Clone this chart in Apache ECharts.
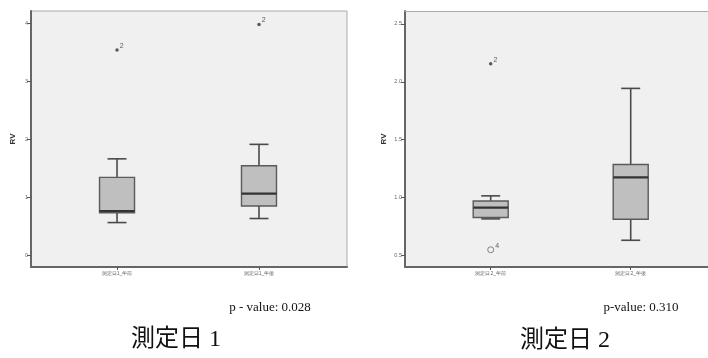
<!DOCTYPE html>
<html>
<head>
<meta charset="utf-8">
<script src="https://cdn.jsdelivr.net/npm/echarts@6/dist/echarts.min.js"></script>
<style>
  html, body { margin: 0; padding: 0; background: #fff; }
  #chart { width: 708px; height: 358px; }
</style>
</head>
<body>
<div id="chart"></div>
<script>
// 测定日1 / 测定日2 的箱线图数据
const day1Categories = ['測定日1_午前', '測定日1_午後'];
const day2Categories = ['測定日2_午前', '測定日2_午後'];
// [x, min, Q1, median, Q3, max]
const day1Boxes = [
    [1, 0.56, 0.73, 0.76, 1.34, 1.66],
    [2, 0.63, 0.845, 1.06, 1.54, 1.91]
];
const day2Boxes = [
    [1, 0.815, 0.827, 0.913, 0.97, 1.014],
    [2, 0.63, 0.812, 1.173, 1.285, 1.943]
];
// 极端值(*) [x, value, 编号]
const day1Extremes = [[1, 3.54, '2'], [2, 3.98, '2']];
const day2Extremes = [[1, 2.156, '2']];
// 离群值(o)
const day2Outliers = [[1, 0.548, '4']];
const day1Ticks = [0, 1, 2, 3, 4];
const day2Ticks = [0.5, 1.0, 1.5, 2.0, 2.5];
const pValues = ['p - value: 0.028', 'p-value: 0.310'];
const dayTitles = ['測定日 1', '測定日 2'];

const BOX_W = 35, CAP_W = 19;

function renderBox(params, api) {
    let x = api.value(0);
    let pMin = api.coord([x, api.value(1)]),
        pQ1 = api.coord([x, api.value(2)]),
        pMed = api.coord([x, api.value(3)]),
        pQ3 = api.coord([x, api.value(4)]),
        pMax = api.coord([x, api.value(5)]);
    let cx = pMin[0];
    let lineStyle = {stroke: '#4a4a4a', lineWidth: 1.6};
    return {
        type: 'group',
        children: [
            {type: 'line', shape: {x1: cx, y1: pMax[1], x2: cx, y2: pQ3[1]}, style: lineStyle},
            {type: 'line', shape: {x1: cx, y1: pQ1[1], x2: cx, y2: pMin[1]}, style: lineStyle},
            {type: 'line', shape: {x1: cx - CAP_W / 2, y1: pMax[1], x2: cx + CAP_W / 2, y2: pMax[1]}, style: lineStyle},
            {type: 'line', shape: {x1: cx - CAP_W / 2, y1: pMin[1], x2: cx + CAP_W / 2, y2: pMin[1]}, style: lineStyle},
            {
                type: 'rect',
                shape: {x: cx - BOX_W / 2, y: pQ3[1], width: BOX_W, height: pQ1[1] - pQ3[1]},
                style: {fill: '#bfbfbf', stroke: '#5a5a5a', lineWidth: 1.4}
            },
            {type: 'line', shape: {x1: cx - BOX_W / 2, y1: pMed[1], x2: cx + BOX_W / 2, y2: pMed[1]},
                style: {stroke: '#333', lineWidth: 2.2}}
        ]
    };
}

function makeXAxis(idx, cats, min, max) {
    return {
        type: 'value', gridIndex: idx, min: min, max: max,
        splitLine: {show: false},
        axisLine: {show: true, onZero: false, lineStyle: {color: '#666', width: 2}},
        axisTick: {show: true, length: 3, customValues: [1, 2], lineStyle: {color: '#555'}},
        axisLabel: {
            customValues: [1, 2], fontSize: 5, color: '#666', margin: 4,
            formatter: v => cats[v - 1] || ''
        }
    };
}

function makeYAxis(idx, ticks, min, max, gap, digits) {
    return {
        type: 'value', gridIndex: idx, min: min, max: max,
        name: 'RV', nameLocation: 'middle', nameGap: gap, nameRotate: 90,
        nameTextStyle: {fontSize: 8, fontWeight: 'bold', color: '#333'},
        splitLine: {show: false},
        axisLine: {show: true, onZero: false, lineStyle: {color: '#666', width: 2}},
        axisTick: {show: true, length: 4, customValues: ticks, lineStyle: {color: '#555'}},
        axisLabel: {
            customValues: ticks, fontSize: 5.5, color: '#666', margin: 3,
            formatter: v => v.toFixed(digits)
        }
    };
}

function pointSeries(idx, data, symbol, size, filled) {
    return {
        type: 'scatter', xAxisIndex: idx, yAxisIndex: idx,
        data: data, symbol: symbol, symbolSize: size,
        itemStyle: filled ? {color: '#333'} : {color: '#f0f0f0', borderColor: '#666', borderWidth: 1},
        label: {
            show: true, position: 'right', distance: 1, offset: [0, -4],
            formatter: p => p.data[2], fontSize: 7, color: '#333'
        }
    };
}

let textStyleSerif = 'Liberation Serif, DejaVu Serif, Noto Sans CJK JP, serif';

let option = {
    animation: false,
    backgroundColor: '#fff',
    grid: [
        {left: 31, top: 11, width: 316, height: 256, show: true, backgroundColor: '#f0f0f0', borderColor: '#aaa', borderWidth: 1},
        // 右图在画布右侧被截断，没有右边框
        {left: 405, top: 11, width: 303, height: 256, show: true, backgroundColor: '#f0f0f0', borderWidth: 0}
    ],
    xAxis: [
        makeXAxis(0, day1Categories, 0.394, 2.62),
        makeXAxis(1, day2Categories, 0.388, 2.552),
        {
            type: 'value', gridIndex: 1, position: 'top', min: 0, max: 1,
            axisLine: {show: true, onZero: false, lineStyle: {color: '#aaa', width: 1}},
            axisTick: {show: false}, axisLabel: {show: false}, splitLine: {show: false}
        }
    ],
    yAxis: [
        makeYAxis(0, day1Ticks, -0.207, 4.212, 14, 0),
        makeYAxis(1, day2Ticks, 0.399, 2.612, 17, 1)
    ],
    series: [
        {type: 'custom', xAxisIndex: 0, yAxisIndex: 0, renderItem: renderBox, data: day1Boxes,
            encode: {x: 0, y: [1, 2, 3, 4, 5]}},
        {type: 'custom', xAxisIndex: 1, yAxisIndex: 1, renderItem: renderBox, data: day2Boxes,
            encode: {x: 0, y: [1, 2, 3, 4, 5]}},
        pointSeries(0, day1Extremes, 'circle', 3.5, true),
        pointSeries(1, day2Extremes, 'circle', 3.5, true),
        pointSeries(1, day2Outliers, 'circle', 6, false)
    ],
    graphic: [
        {type: 'text', x: 270, y: 308, style: {text: pValues[0], font: '13px ' + textStyleSerif, fill: '#111', align: 'center', verticalAlign: 'middle'}},
        {type: 'text', x: 641, y: 308, style: {text: pValues[1], font: '13px ' + textStyleSerif, fill: '#111', align: 'center', verticalAlign: 'middle'}},
        {type: 'text', x: 176, y: 340, style: {text: dayTitles[0], font: '24px ' + textStyleSerif, fill: '#111', align: 'center', verticalAlign: 'middle'}},
        {type: 'text', x: 565, y: 341, style: {text: dayTitles[1], font: '24px ' + textStyleSerif, fill: '#111', align: 'center', verticalAlign: 'middle'}}
    ]
};

let myChart = echarts.init(document.getElementById('chart'));
myChart.setOption(option);
</script>
</body>
</html>
